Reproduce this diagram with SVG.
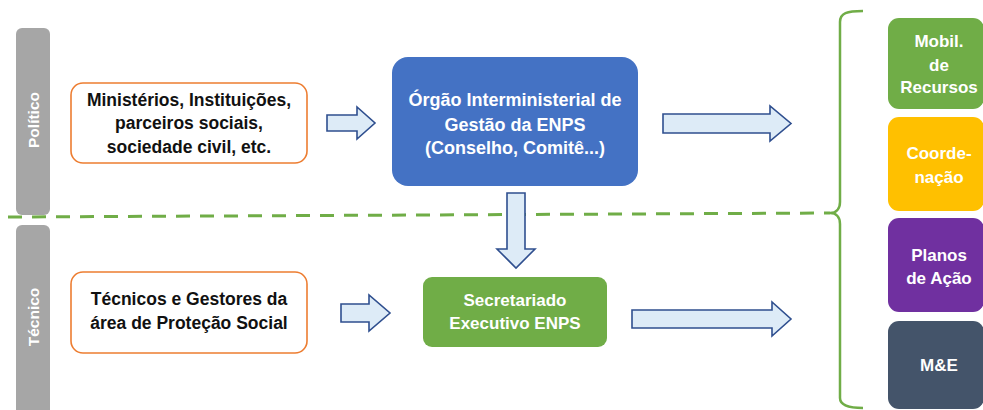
<svg xmlns="http://www.w3.org/2000/svg" width="983" height="410" viewBox="0 0 983 410">
<style>
text{font-family:"Liberation Sans",Arial,sans-serif;font-weight:bold;text-anchor:middle}
.dark{fill:#111111;font-size:17.5px}
.light{fill:#FFFFFF;font-size:17px}
.big{font-size:18px}
.side{fill:#FFFFFF;font-size:15.5px;dominant-baseline:central}
.bar{fill:#A6A6A6}
.orange{fill:#FFFFFF;stroke:#ED7D31;stroke-width:1.6}
.arrow{fill:#DDEBF7;stroke:#2F4F8F;stroke-width:1.6;stroke-linejoin:miter}
.sep{fill:none;stroke:#70AD47;stroke-width:3;stroke-dasharray:14 10}
.brace{fill:none;stroke:#70AD47;stroke-width:2.5}
</style>
<rect width="983" height="410" fill="#FFFFFF"/>
<line class="sep" x1="8" y1="217" x2="830" y2="213"/>
<g id="bar-politico">
<rect class="bar" x="16" y="28" width="34" height="187" rx="6"/>
<text class="side" transform="translate(33,120) rotate(-90)">Político</text>
</g>
<g id="bar-tecnico">
<rect class="bar" x="16" y="225" width="34" height="195" rx="6"/>
<text class="side" transform="translate(33,317) rotate(-90)">Técnico</text>
</g>
<g id="node-ministerios">
<rect class="orange" x="71" y="83" width="236" height="80" rx="12"/>
<text class="dark" x="189" y="106">Ministérios, Instituições,</text>
<text class="dark" x="189" y="129">parceiros sociais,</text>
<text class="dark" x="189" y="153">sociedade civil, etc.</text>
</g>
<g id="node-tecnicos">
<rect class="orange" x="71" y="272" width="236" height="81" rx="12"/>
<text class="dark" x="189" y="305">Técnicos e Gestores da</text>
<text class="dark" x="189" y="329">área de Proteção Social</text>
</g>
<g id="node-orgao">
<rect x="392" y="57" width="246" height="129" rx="16" fill="#4472C4"/>
<text class="light big" x="515" y="106">Órgão Interministerial de</text>
<text class="light big" x="515" y="131">Gestão da ENPS</text>
<text class="light big" x="515" y="154">(Conselho, Comitê...)</text>
</g>
<g id="node-secretariado">
<rect x="423" y="277" width="184" height="70" rx="9" fill="#70AD47"/>
<text class="light" x="515" y="306">Secretariado</text>
<text class="light" x="515" y="329">Executivo ENPS</text>
</g>
<g id="brace">
<path class="brace" d="M863,11 C847,11 840,13 840,22 L840,202 C840,209 836,213 830,213 C836,213 840,217 840,224 L840,398 C840,405 847,408 863,408"/>
</g>
<g id="node-mobil">
<rect x="888" y="18" width="96" height="91" rx="11" fill="#70AD47"/>
<text class="light" x="939" y="47">Mobil.</text>
<text class="light" x="939" y="71">de</text>
<text class="light" x="939" y="93">Recursos</text>
</g>
<g id="node-coordenacao">
<rect x="888" y="117" width="96" height="94" rx="11" fill="#FFC000"/>
<text class="light" x="939" y="159">Coorde-</text>
<text class="light" x="939" y="183">nação</text>
</g>
<g id="node-planos">
<rect x="888" y="218" width="96" height="94" rx="11" fill="#7030A0"/>
<text class="light" x="939" y="261">Planos</text>
<text class="light" x="939" y="284">de Ação</text>
</g>
<g id="node-me">
<rect x="888" y="321" width="96" height="88" rx="11" fill="#44546A"/>
<text class="light" x="939" y="371">M&amp;E</text>
</g>
<g id="connectors">
<path class="arrow" d="M327,115 H357 V107 L375,123 L357,139 V131 H327 Z"/>
<path class="arrow" d="M341,304 H369 V295 L390,313 L369,331 V322 H341 Z"/>
<path class="arrow" d="M663,114 H770 V106 L791,123.5 L770,141 V133 H663 Z"/>
<path class="arrow" d="M632,310 H772 V302 L791,319 L772,336 V328 H632 Z"/>
<path class="arrow" d="M507,193 V249 H497 L516,268 L535,249 H525 V193 Z"/>
</g>
</svg>
